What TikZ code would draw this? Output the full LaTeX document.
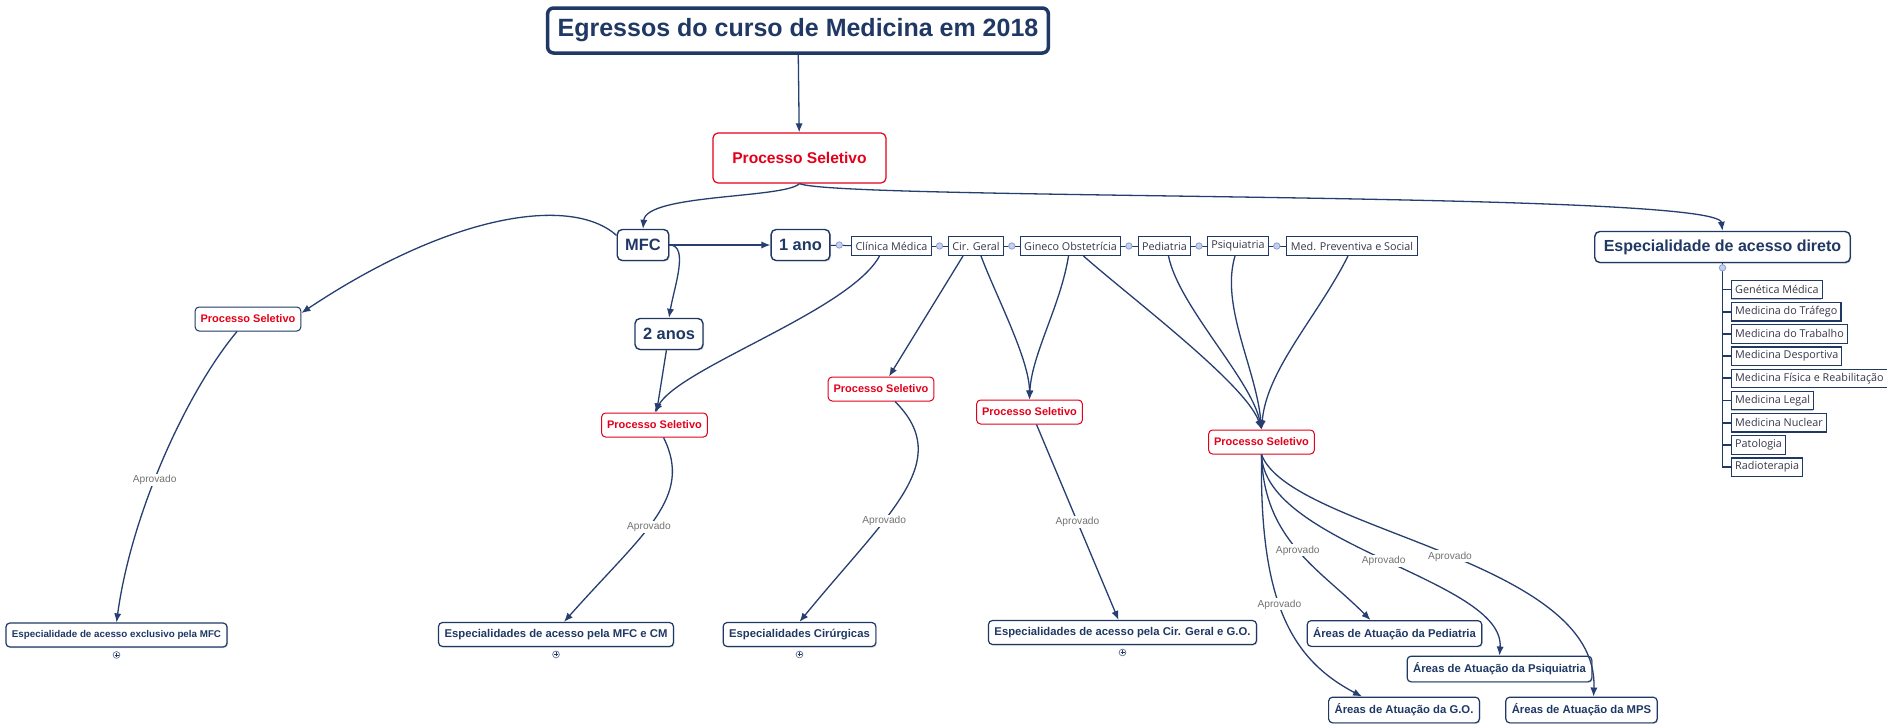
\documentclass[tikz,border=0pt]{standalone}
\usepackage{fontspec}
\setmainfont{Liberation Sans}
\newfontfamily\labelfont{Open Sans}
\usetikzlibrary{arrows.meta, shapes, positioning, shadows}

\definecolor{navy}{RGB}{31,56,100}
\definecolor{linkblue}{RGB}{38,62,112}
\definecolor{psred}{RGB}{228,0,27}
\definecolor{knobfill}{RGB}{196,208,238}
\definecolor{knobdraw}{RGB}{140,160,215}
\definecolor{aprovgray}{RGB}{115,115,115}
\definecolor{chaintext}{RGB}{55,55,75}

\tikzset{
  titlebox/.style={draw=navy, line width=1.75pt, rounded corners=3pt, fill=white, text=navy,
    font=\fontsize{12.5pt}{15pt}\selectfont\bfseries, minimum height=22.5pt, inner xsep=5pt},
  mainps/.style={draw=psred, line width=0.6pt, rounded corners=2.5pt, fill=white, text=psred,
    font=\fontsize{7.8pt}{9pt}\selectfont\bfseries, minimum width=86.5pt, minimum height=25pt},
  topic/.style={draw=navy, line width=0.7pt, rounded corners=2.5pt, fill=white, text=navy,
    font=\fontsize{8.2pt}{10pt}\selectfont\bfseries, minimum height=15.5pt, inner xsep=4pt,
    drop shadow={shadow xshift=0.6pt, shadow yshift=-0.6pt, fill=black!30}},
  psbox/.style={draw=psred, line width=0.5pt, rounded corners=2pt, fill=white, text=psred,
    font=\fontsize{5.5pt}{6.5pt}\selectfont\bfseries, minimum height=12pt, inner xsep=2.75pt},
  chainbox/.style={draw=navy, line width=0.5pt, fill=white, text=chaintext,
    font=\labelfont\fontsize{5.4pt}{6.5pt}\selectfont, minimum height=9.5pt, inner xsep=2pt, inner ysep=1pt},
  listbox/.style={draw=navy, line width=0.6pt, fill=white, text=chaintext,
    font=\labelfont\fontsize{5.4pt}{6.5pt}\selectfont, minimum height=9.2pt, inner xsep=1.8pt, inner ysep=1pt,
    drop shadow={shadow xshift=-0.4pt, shadow yshift=-0.4pt, fill=navy!60}},
  resultbox/.style={draw=navy, line width=0.6pt, rounded corners=2pt, fill=white, text=navy,
    font=\fontsize{5.65pt}{7pt}\selectfont\bfseries, minimum height=12pt, inner xsep=3pt,
    drop shadow={shadow xshift=0.5pt, shadow yshift=-0.5pt, fill=black!30}},
  knob/.style={circle, fill=knobfill, draw=knobdraw, line width=0.4pt, minimum size=3.2pt, inner sep=0pt},
  expand/.style={circle, draw=navy!70, line width=0.35pt, minimum size=3.4pt, inner sep=0pt,
    path picture={\draw[line width=0.3pt, navy]
      ([xshift=-1pt]path picture bounding box.center) -- ([xshift=1pt]path picture bounding box.center)
      ([yshift=-1pt]path picture bounding box.center) -- ([yshift=1pt]path picture bounding box.center);}},
  aprov/.style={fill=white, text=aprovgray, inner sep=0.6pt, font=\fontsize{5.1pt}{6pt}\selectfont},
  link/.style={->, draw=linkblue, line width=0.65pt},
  chainline/.style={draw=navy, line width=0.5pt},
}

\begin{document}
\begin{tikzpicture}[x=0.5pt, y=-0.5pt, >={Latex[length=4.5pt,width=3.6pt]}]
      \fill[white] (0,0) rectangle (1887,725);
      \useasboundingbox (0,0) rectangle (1887,725);

      % nodes %
      \node[titlebox] (title) at (798,30.5) {Egressos do curso de Medicina em 2018};
      \node[mainps] (ps0) at (799.5,158) {Processo Seletivo};
      \node[topic] (mfc) at (643,245) {MFC};
      \node[topic, right of = mfc, node distance=78.75pt] (ano1) {1 ano};
      \node[topic] (ano2) at (669,334) {2 anos};
      \node[topic, font=\fontsize{8pt}{10pt}\selectfont\bfseries, inner xsep=4.5pt] (esp) at (1722.5,247) {Especialidade de acesso direto};

      \node[chainbox] (cm) at (891.5,246) {Clínica Médica};
      \node[chainbox, right of = cm, node distance=42.25pt] (cg) {Cir. Geral};
      \node[chainbox, right of = cg, node distance=47.25pt] (go) {Gineco Obstetrícia};
      \node[chainbox, right of = go, node distance=47pt] (ped) {Pediatria};
      \node[chainbox, right of = ped, node distance=36.75pt] (psi) {Psiquiatria};
      \node[chainbox, right of = psi, node distance=57pt] (mps) {Med. Preventiva e Social};

      \node[psbox, draw=navy] (ps1) at (248,319) {Processo Seletivo};
      \node[psbox] (ps2) at (654.5,425) {Processo Seletivo};
      \node[psbox] (ps3) at (881,389) {Processo Seletivo};
      \node[psbox] (ps4) at (1029.5,412) {Processo Seletivo};
      \node[psbox] (ps5) at (1261.5,442) {Processo Seletivo};

      % especialidades de acesso direto %
      \node[listbox, anchor=west] (gen) at (1731,289.5) {Genética Médica};
      \node[listbox, below=1.3pt of gen.south west, anchor=north west] (traf) {Medicina do Tráfego};
      \node[listbox, below=1.3pt of traf.south west, anchor=north west] (trab) {Medicina do Trabalho};
      \node[listbox, below=1.3pt of trab.south west, anchor=north west] (desp) {Medicina Desportiva};
      \node[listbox, below=1.3pt of desp.south west, anchor=north west] (fis) {Medicina Física e Reabilitação};
      \node[listbox, below=1.3pt of fis.south west, anchor=north west] (leg) {Medicina Legal};
      \node[listbox, below=1.3pt of leg.south west, anchor=north west] (nuc) {Medicina Nuclear};
      \node[listbox, below=1.3pt of nuc.south west, anchor=north west] (pat) {Patologia};
      \node[listbox, below=1.3pt of pat.south west, anchor=north west] (rad) {Radioterapia};

      % resultados %
      \node[resultbox, font=\fontsize{4.9pt}{6pt}\selectfont\bfseries] (exc) at (116.5,635) {Especialidade de acesso exclusivo pela MFC};
      \node[resultbox] (mfccm) at (556,634.5) {Especialidades de acesso pela MFC e CM};
      \node[resultbox] (cir) at (799.5,634.5) {Especialidades Cirúrgicas};
      \node[resultbox] (cggo) at (1122.5,632.5) {Especialidades de acesso pela Cir. Geral e G.O.};
      \node[resultbox] (aped) at (1394.5,633.5) {Áreas de Atuação da Pediatria};
      \node[resultbox] (apsi) at (1499.5,669) {Áreas de Atuação da Psiquiatria};
      \node[resultbox] (ago) at (1404,710) {Áreas de Atuação da G.O.};
      \node[resultbox] (amps) at (1581.5,710) {Áreas de Atuação da MPS};

      \node[expand, below=1.8pt of exc] (excplus) {};
      \node[expand, below=1.8pt of mfccm] (mfccmplus) {};
      \node[expand, below=1.8pt of cir] (cirplus) {};
      \node[expand, below=1.8pt of cggo] (cggoplus) {};

      % chain lines and knobs %
      \draw[chainline] (ano1) -- (cm);
      \draw[chainline] (cm) -- (cg);
      \draw[chainline] (cg) -- (go);
      \draw[chainline] (go) -- (ped);
      \draw[chainline] (ped) -- (psi);
      \draw[chainline] (psi) -- (mps);
      \node[knob, right=2.5pt of ano1] (k1) {};
      \node[knob, right=2pt of cm] (k2) {};
      \node[knob, right=2pt of cg] (k3) {};
      \node[knob, right=2pt of go] (k4) {};
      \node[knob, right=2pt of ped] (k5) {};
      \node[knob, right=2pt of psi] (k6) {};

      \draw[chainline, line width=0.9pt] (esp.south) |- (gen.west);
      \draw[chainline, line width=0.9pt] (esp.south) |- (traf.west);
      \draw[chainline, line width=0.9pt] (esp.south) |- (trab.west);
      \draw[chainline, line width=0.9pt] (esp.south) |- (desp.west);
      \draw[chainline, line width=0.9pt] (esp.south) |- (fis.west);
      \draw[chainline, line width=0.9pt] (esp.south) |- (leg.west);
      \draw[chainline, line width=0.9pt] (esp.south) |- (nuc.west);
      \draw[chainline, line width=0.9pt] (esp.south) |- (pat.west);
      \draw[chainline, line width=0.9pt] (esp.south) |- (rad.west);
      \node[knob, below=0.5pt of esp] (kesp) {};

      % edges %
      \draw[link] (title) -- (ps0);
      \draw[link] (ps0.south) .. controls +(-15,15) and +(3,-35) .. (mfc.north);
      \draw[link] (ps0.south) .. controls +(40,17) and +(-5,-40) .. (esp.north);
      \draw[link] (mfc) -- (ano1);
      \draw[link] (mfc.east) .. controls +(20,0) and +(5,-30) .. (ano2.north);
      \draw[link] (mfc.160) .. controls +(-45,-40) and +(150,-100) .. ([yshift=3pt]ps1.east);
      \draw[link] (ano2) -- (ps2);
      \draw[link] ([xshift=-6pt]cm.south) .. controls +(-30,55) and +(25,-45) .. (ps2.north);
      \draw[link] ([xshift=-6.5pt]cg.south) -- ([xshift=4pt]ps3.north);
      \draw[link] ([xshift=2.5pt]cg.south) .. controls +(15,40) and +(0,-40) .. (ps4.north);
      \draw[link] ([xshift=-1pt]go.south) .. controls +(-8,50) and +(2,-45) .. (ps4.north);
      \draw[link] ([xshift=6.5pt]go.south) .. controls +(45,40) and +(-15,-45) .. (ps5.north);
      \draw[link] ([xshift=2pt]ped.south) .. controls +(10,50) and +(-10,-50) .. (ps5.north);
      \draw[link] ([xshift=-1.5pt]psi.south) .. controls +(-15,50) and +(-5,-60) .. (ps5.north);
      \draw[link] ([xshift=-2pt]mps.south) .. controls +(-30,60) and +(5,-60) .. (ps5.north);

      \draw[link] ([xshift=-5.5pt]ps1.south) .. controls +(-50,60) and +(15,-110) .. node[aprov, pos=0.57] {Aprovado} (exc.north);
      \draw[link] ([xshift=4.5pt]ps2.south) .. controls +(30,60) and +(80,-90) .. node[aprov, pos=0.55] {Aprovado} ([xshift=4pt]mfccm.north);
      \draw[link] ([xshift=7pt]ps3.south) .. controls +(60,60) and +(90,-110) .. node[aprov, pos=0.63] {Aprovado} (cir.north);
      \draw[link] ([xshift=3.5pt]ps4.south) -- node[aprov, pos=0.5] {Aprovado} ([xshift=-2pt]cggo.north);
      \draw[link] (ps5.south) .. controls +(2,86) and +(-50.5,-51) .. node[aprov, pos=0.5] {Aprovado} ([xshift=-12pt]aped.north);
      \draw[link] (ps5.south) .. controls +(3,91) and +(5.5,-76) .. node[aprov, pos=0.5] {Aprovado} (apsi.north);
      \draw[link] (ps5.south) .. controls +(28,76) and +(6.5,-138) .. node[aprov, pos=0.52] {Aprovado} ([xshift=6pt]amps.north);
      \draw[link] (ps5.south) .. controls +(-2,146) and +(-72,-38) .. node[aprov, pos=0.45] {Aprovado} ([xshift=-21pt]ago.north);
\end{tikzpicture}
\end{document}
